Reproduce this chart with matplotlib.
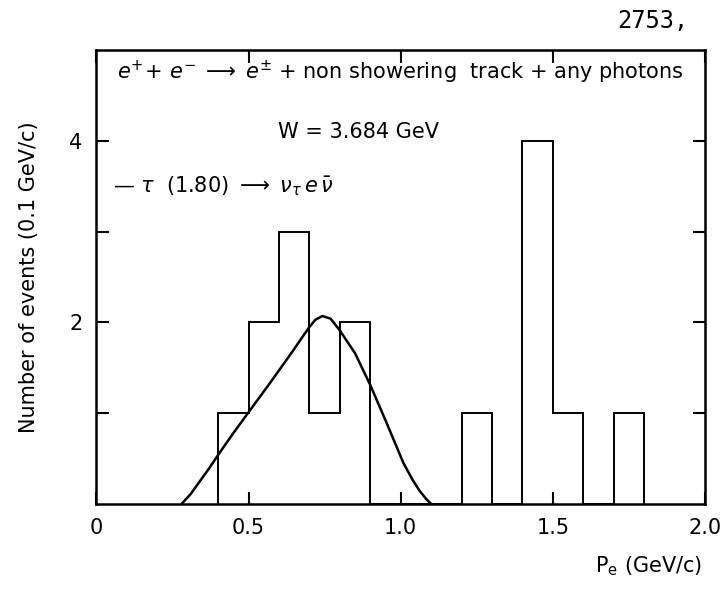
import matplotlib
matplotlib.use("Agg")
import matplotlib.pyplot as plt
from matplotlib.ticker import FixedLocator

# histogram, 0.1 GeV/c bins
bin_edges = [0.4, 0.5, 0.6, 0.7, 0.8, 0.9, 1.0, 1.1, 1.2, 1.3, 1.4, 1.5, 1.6, 1.7, 1.8]
counts = [1, 2, 3, 1, 2, 0, 0, 0, 1, 0, 4, 1, 0, 1]

# tau(1.80) -> nu e nubar expectation
curve_p = [0.28, 0.31, 0.34, 0.37, 0.40, 0.45, 0.50, 0.57, 0.636, 0.70, 0.72, 0.743,
           0.77, 0.80, 0.85, 0.90, 0.954, 1.009, 1.04, 1.063, 1.085, 1.10]
curve_n = [0.0, 0.11, 0.25, 0.39, 0.54, 0.78, 1.01, 1.33, 1.64, 1.95, 2.03, 2.07,
           2.04, 1.91, 1.66, 1.31, 0.89, 0.45, 0.26, 0.14, 0.05, 0.0]

x_ticks = [0, 0.5, 1.0, 1.5, 2.0]
x_labels = ["0", "0.5", "1.0", "1.5", "2.0"]
y_ticks = [2, 4]
y_minor = [1, 3]

fig = plt.figure(figsize=(7.2, 5.9), dpi=100)
ax = fig.add_axes([0.134, 0.146, 0.845, 0.769])

ax.stairs(counts, bin_edges, baseline=0, color="black", lw=1.4)
ax.plot(curve_p, curve_n, color="black", lw=1.8)

ax.set_xlim(0, 2.0)
ax.set_ylim(0, 5)
ax.set_xticks(x_ticks)
ax.set_xticklabels(x_labels)
ax.set_yticks(y_ticks)
ax.yaxis.set_minor_locator(FixedLocator(y_minor))
ax.tick_params(direction="in", which="both", top=True, right=True,
               length=9, width=1.5, labelsize=15, pad=10)
for sp in ax.spines.values():
    sp.set_linewidth(1.8)

ax.set_ylabel("Number of events (0.1 GeV/c)", fontsize=15, labelpad=22)
fig.text(0.975, 0.03, r"P$_\mathregular{e}$ (GeV/c)", fontsize=15, ha="right")

ax.text(0.5, 0.95,
        r"$e^{+}\!+\,e^{-}\;\longrightarrow\; e^{\pm}$ + non showering  track + any photons",
        transform=ax.transAxes, ha="center", va="center", fontsize=15)
ax.text(0.43, 0.82, "W = 3.684 GeV", transform=ax.transAxes,
        ha="center", va="center", fontsize=15)
ax.text(0.027, 0.70, r"— $\tau$  (1.80) $\longrightarrow$ $\nu_\tau\,e\,\bar\nu$",
        transform=ax.transAxes, ha="left", va="center", fontsize=15)

fig.text(0.857, 0.965, "2753,", fontsize=17, family="DejaVu Sans Mono", va="center")

fig.savefig("out.png", dpi=100)
